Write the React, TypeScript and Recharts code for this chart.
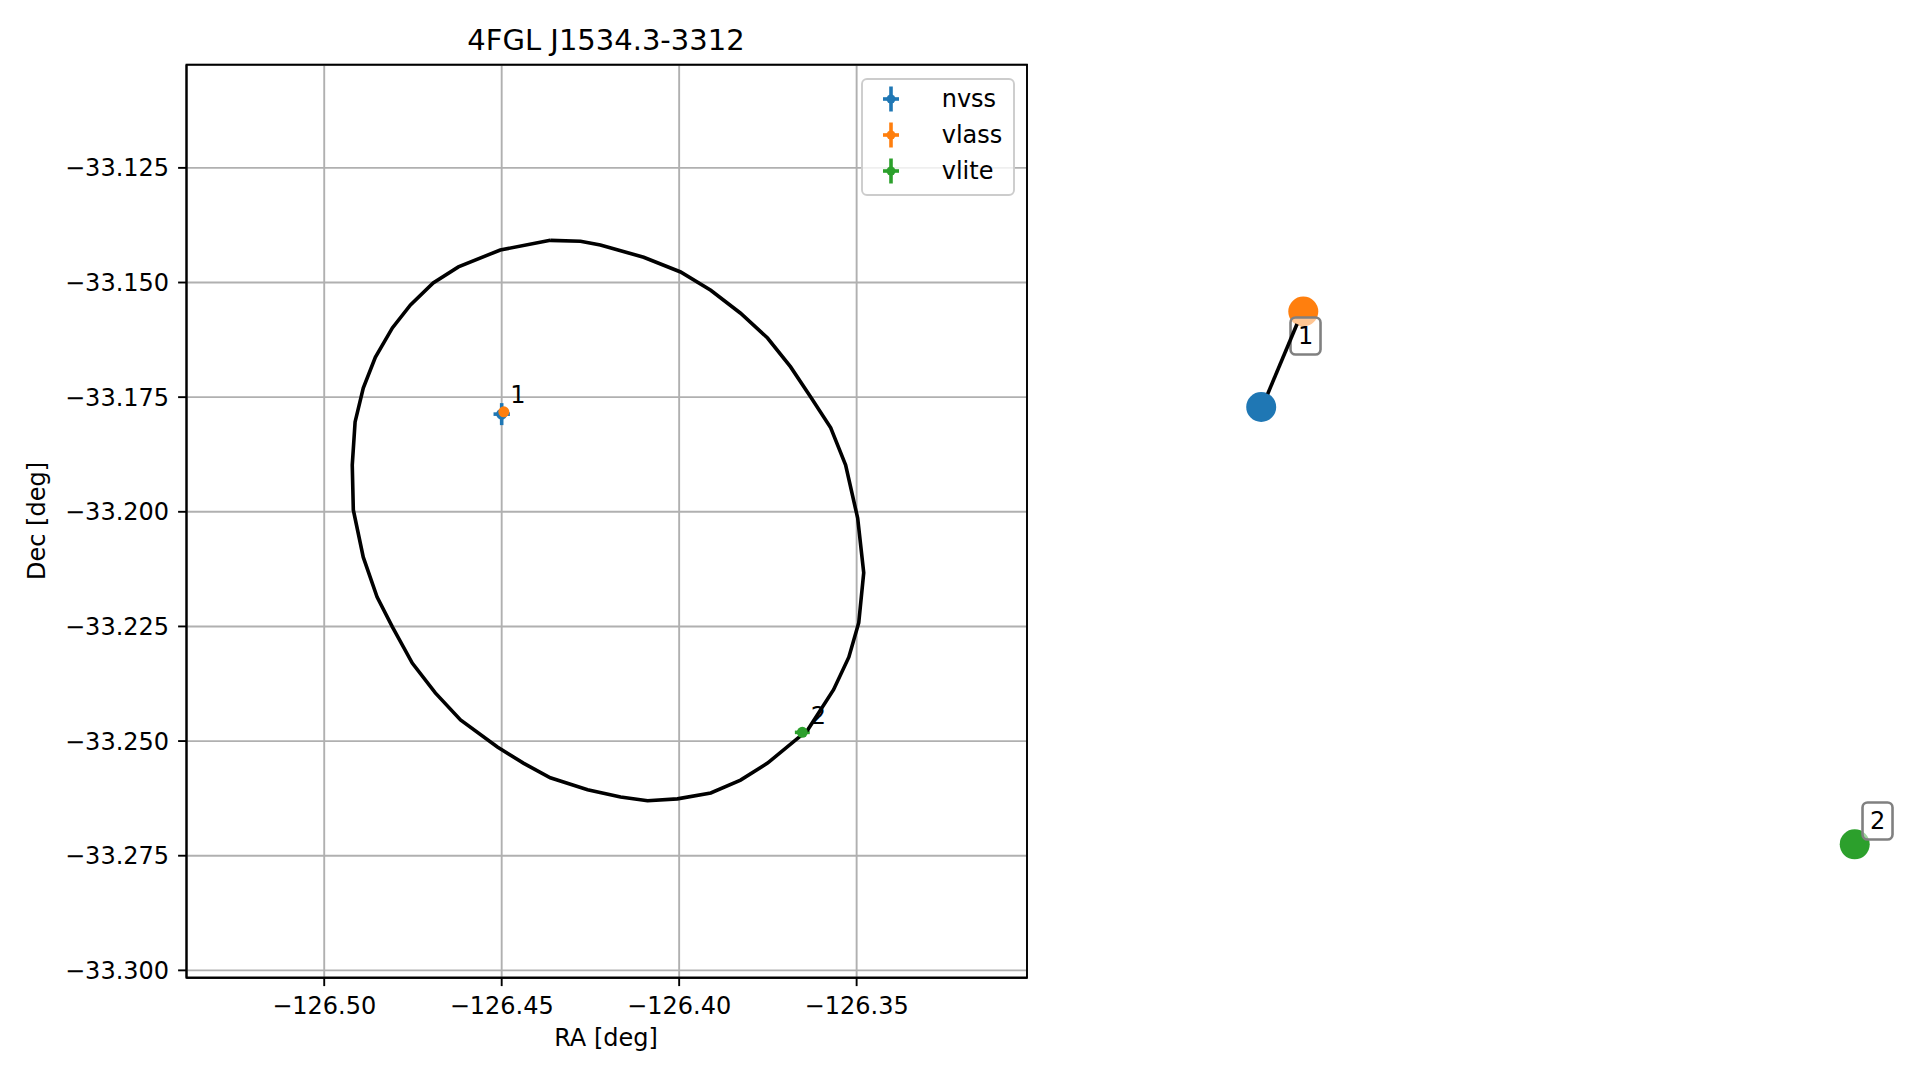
import React from 'react';
import {
    ScatterChart,
    Scatter,
    XAxis,
    YAxis,
    CartesianGrid,
    ErrorBar,
    ReferenceArea,
    Legend,
    Label
} from 'recharts';

const FONT = '"DejaVu Sans", sans-serif';

// radio counterparts
const surveys = ['nvss', 'vlass', 'vlite'];
const surveyColors = ['#1f77b4', '#ff7f0e', '#2ca02c'];
const sourceRa = [-126.45, -126.4494, -126.3653];
const sourceDec = [-33.1787, -33.1782, -33.2481];
const sourceRaErr = [0.0023, 0.0003, 0.0021];
const sourceDecErr = [0.0024, 0.0003, 0.0007];

// match group labels in the sky panel
const matchLabels = ['1', '2'];
const matchLabelRa = [-126.4454, -126.3608];
const matchLabelDec = [-33.1745, -33.2445];

// 4FGL error ellipse
const ellipseRa = [
    -126.4363, -126.4278, -126.4222, -126.41, -126.3996, -126.3911, -126.3827, -126.3751,
    -126.3686, -126.3629, -126.3573, -126.3531, -126.3497, -126.348, -126.3494, -126.3522,
    -126.3565, -126.3638, -126.3751, -126.3827, -126.3911, -126.4005, -126.4089, -126.4165,
    -126.4258, -126.4363, -126.4439, -126.4512, -126.4616, -126.4687, -126.4752, -126.4808,
    -126.4851, -126.489, -126.4918, -126.4921, -126.4913, -126.489, -126.4856, -126.4808,
    -126.4757, -126.4693, -126.4622, -126.4504, -126.4363
];
const ellipseDec = [
    -33.1408, -33.141, -33.1418, -33.1445, -33.1477, -33.1517, -33.1567, -33.1621,
    -33.1684, -33.175, -33.1817, -33.1898, -33.2014, -33.2133, -33.2242, -33.2317,
    -33.2388, -33.2476, -33.2548, -33.2585, -33.2613, -33.2626, -33.263, -33.2622,
    -33.2606, -33.258, -33.2548, -33.2513, -33.2454, -33.2395, -33.233, -33.2251,
    -33.2186, -33.2099, -33.1996, -33.1898, -33.1804, -33.173, -33.1663, -33.1599,
    -33.1549, -33.1501, -33.1466, -33.1429, -33.1408
];

const raTicks = [-126.5, -126.45, -126.4, -126.35];
const decTicks = [-33.3, -33.275, -33.25, -33.225, -33.2, -33.175, -33.15, -33.125];
const raDomain = [-126.5388, -126.302];
const decDomain = [-33.3016, -33.1025];

// graph panel (axis off, unit square)
const nodeX = [0.189, 0.2416, 0.9309];
const nodeY = [0.6254, 0.73, 0.1464];
const nodeLabelX = [0.2444, 0.9594];
const nodeLabelY = [0.7032, 0.172];
const edgeX = [0.1971, 0.2338];
const edgeY = [0.6397, 0.7163];

const fmt = (digits: number) => (v: number) =>
    (v < 0 ? '\u2212' : '') + Math.abs(v).toFixed(digits);

const ellipseData = ellipseRa.map((ra, i) => ({ ra, dec: ellipseDec[i] }));
const sourceData = surveys.map((name, i) => [{
    ra: sourceRa[i],
    dec: sourceDec[i],
    raErr: sourceRaErr[i],
    decErr: sourceDecErr[i]
}]);
const matchLabelData = matchLabels.map((text, i) => ({ ra: matchLabelRa[i], dec: matchLabelDec[i], text }));

const nodeData = surveys.map((name, i) => [{ x: nodeX[i], y: nodeY[i] }]);
const nodeLabelData = matchLabels.map((text, i) => ({ x: nodeLabelX[i], y: nodeLabelY[i], text }));
const edgeData = edgeX.map((x, i) => ({ x, y: edgeY[i] }));

const tickStyle = { fill: '#000', fontSize: 24, fontFamily: FONT };
const axisStroke = { stroke: '#000', strokeWidth: 1.9 };

function LegendBox() {
    return (
        <svg width={154} height={118} style={{ display: 'block' }}>
            <rect x={1} y={1} width={152} height={116} rx={5} fill="#fff" fillOpacity={0.8} stroke="#cccccc" strokeWidth={1.9} />
            {surveys.map((name, i) => {
                const cy = 21 + i * 36;
                const c = surveyColors[i];
                return (
                    <g key={name}>
                        <line x1={30} x2={30} y1={cy - 12.5} y2={cy + 12.5} stroke={c} strokeWidth={3.6} />
                        <line x1={22} x2={38} y1={cy} y2={cy} stroke={c} strokeWidth={3.6} />
                        <circle cx={30} cy={cy} r={4.5} fill={c} />
                        <text x={80.7} y={cy} dominantBaseline="central" fontSize={24} fontFamily={FONT} fill="#000">{name}</text>
                    </g>
                );
            })}
        </svg>
    );
}

export default function App() {
    return (
        <div style={{ position: 'absolute', left: 0, top: 0, width: 1919, height: 1080, background: '#fff' }}>
            {/* sky panel */}
            <div style={{ position: 'absolute', left: 0, top: 0 }}>
                <ScatterChart width={1100} height={1080} margin={{ top: 64.7, right: 73, bottom: 42.3, left: 66.5 }}>
                    <CartesianGrid stroke="#b0b0b0" strokeWidth={1.9} />
                    <XAxis
                        type="number"
                        dataKey="ra"
                        domain={raDomain}
                        ticks={raTicks}
                        allowDataOverflow
                        height={60}
                        tick={tickStyle}
                        tickFormatter={fmt(2)}
                        tickSize={8.4}
                        tickMargin={11}
                        axisLine={axisStroke}
                        tickLine={axisStroke}
                    >
                        <Label content={() => (
                            <text x={606} y={1046} textAnchor="middle" fontSize={24} fontFamily={FONT} fill="#000">RA [deg]</text>
                        )} />
                        <Label content={() => (
                            <text x={606} y={50} textAnchor="middle" fontSize={29} fontFamily={FONT} fill="#000">4FGL J1534.3-3312</text>
                        )} />
                    </XAxis>
                    <YAxis
                        type="number"
                        dataKey="dec"
                        domain={decDomain}
                        ticks={decTicks}
                        allowDataOverflow
                        width={120}
                        tick={tickStyle}
                        tickFormatter={fmt(3)}
                        tickSize={8.4}
                        tickMargin={9}
                        axisLine={axisStroke}
                        tickLine={axisStroke}
                    >
                        <Label content={() => (
                            <text x={45} y={521} transform="rotate(-90 45 521)" textAnchor="middle" fontSize={24} fontFamily={FONT} fill="#000">Dec [deg]</text>
                        )} />
                    </YAxis>
                    <Scatter
                        data={ellipseData}
                        line={{ stroke: '#000', strokeWidth: 3.6 }}
                        lineJointType="linear"
                        shape={() => <g />}
                        legendType="none"
                        isAnimationActive={false}
                    />
                    {surveys.map((name, i) => (
                        <Scatter
                            key={name}
                            name={name}
                            data={sourceData[i]}
                            fill={surveyColors[i]}
                            shape={(p: any) => <circle cx={p.cx} cy={p.cy} r={5.5} fill={surveyColors[i]} />}
                            isAnimationActive={false}
                        >
                            <ErrorBar dataKey="raErr" direction="x" width={0} stroke={surveyColors[i]} strokeWidth={3.6} isAnimationActive={false} />
                            <ErrorBar dataKey="decErr" direction="y" width={0} stroke={surveyColors[i]} strokeWidth={3.6} isAnimationActive={false} />
                        </Scatter>
                    ))}
                    <Scatter
                        data={matchLabelData}
                        legendType="none"
                        shape={(p: any) => (
                            <text x={p.cx} y={p.cy} textAnchor="middle" dominantBaseline="central" fontSize={24} fontFamily={FONT} fill="#000">{p.payload.text}</text>
                        )}
                        isAnimationActive={false}
                    />
                    <ReferenceArea
                        x1={raDomain[0]}
                        x2={raDomain[1]}
                        y1={decDomain[0]}
                        y2={decDomain[1]}
                        fill="none"
                        stroke="#000"
                        strokeWidth={1.9}
                        ifOverflow="visible"
                    />
                    <Legend
                        layout="horizontal"
                        verticalAlign="middle"
                        align="center"
                        content={() => <LegendBox />}
                        wrapperStyle={{ left: 861, top: 78, width: 154, height: 118 }}
                    />
                </ScatterChart>
            </div>

            {/* match graph panel */}
            <div style={{ position: 'absolute', left: 1110, top: 65 }}>
                <ScatterChart width={800} height={913} margin={{ top: 0, right: 0, bottom: 0, left: 0 }}>
                    <XAxis type="number" dataKey="x" domain={[0, 1]} hide allowDataOverflow />
                    <YAxis type="number" dataKey="y" domain={[0, 1]} hide allowDataOverflow />
                    {surveys.map((name, i) => (
                        <Scatter
                            key={name}
                            data={nodeData[i]}
                            shape={(p: any) => <circle cx={p.cx} cy={p.cy} r={15} fill={surveyColors[i]} />}
                            isAnimationActive={false}
                        />
                    ))}
                    <Scatter
                        data={nodeLabelData}
                        shape={(p: any) => (
                            <rect x={p.cx - 15} y={p.cy - 18.5} width={30} height={37} rx={5} fill="#fff" fillOpacity={0.55} stroke="#808080" strokeWidth={2.6} />
                        )}
                        isAnimationActive={false}
                    />
                    <Scatter
                        data={edgeData}
                        line={{ stroke: '#000', strokeWidth: 3.6 }}
                        lineJointType="linear"
                        shape={() => <g />}
                        isAnimationActive={false}
                    />
                    <Scatter
                        data={nodeLabelData}
                        shape={(p: any) => (
                            <text x={p.cx} y={p.cy} textAnchor="middle" dominantBaseline="central" fontSize={24} fontFamily={FONT} fill="#000">{p.payload.text}</text>
                        )}
                        isAnimationActive={false}
                    />
                </ScatterChart>
            </div>
        </div>
    );
}
